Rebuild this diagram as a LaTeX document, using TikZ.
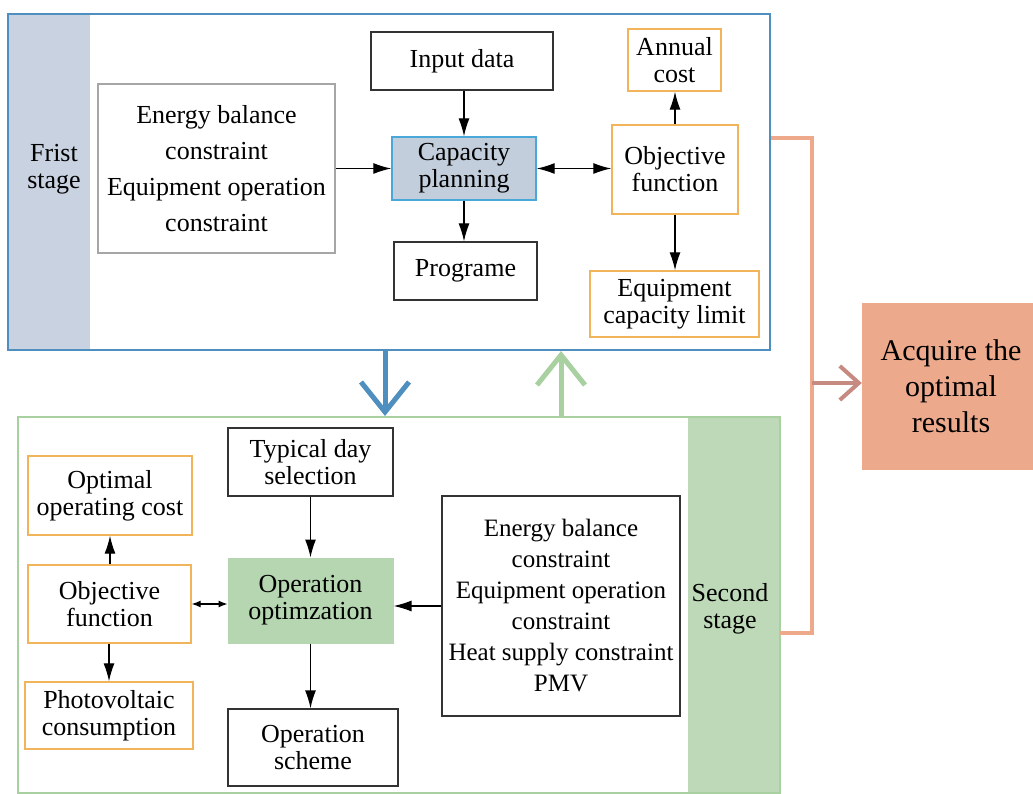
\documentclass[tikz,border=0pt]{standalone}
\usepackage{fontspec}
\setmainfont{Liberation Serif}
\usetikzlibrary{arrows.meta}
\definecolor{stblue}{HTML}{4F8FC0}
\definecolor{bandblue}{HTML}{C8D2E0}
\definecolor{capfill}{HTML}{C3CEDC}
\definecolor{capdraw}{HTML}{4AA8D8}
\definecolor{orgdraw}{HTML}{F2B45A}
\definecolor{stgreen}{HTML}{A8D0A0}
\definecolor{bandgreen}{HTML}{BDD9B7}
\definecolor{optfill}{HTML}{B5D6B0}
\definecolor{salmon}{HTML}{EDA98C}
\definecolor{orline}{HTML}{EEA88A}
\definecolor{brarrow}{HTML}{C68A80}
\begin{document}
\begin{tikzpicture}[x=1pt,y=-1pt,
  txt/.style={font=\fontsize{26}{27}\selectfont, align=center, inner sep=0pt},
  box/.style={txt, draw=black!80, line width=1.3pt},
  graybox/.style={txt, draw=black!35, line width=1.3pt},
  orgbox/.style={txt, draw=orgdraw, line width=1.4pt},
  capbox/.style={txt, draw=capdraw, fill=capfill, line width=1.4pt},
  optbox/.style={txt, fill=optfill, draw=optfill, line width=1pt},
  arr/.style={line width=1.3pt, -{Latex[length=18pt,width=11pt]}},
  darr/.style={line width=1.3pt, {Latex[length=18pt,width=11pt]}-{Latex[length=18pt,width=11pt]}},
  sdarr/.style={line width=1.2pt, {Latex[length=9pt,width=7pt]}-{Latex[length=9pt,width=7pt]}},
  sz/.style 2 args={minimum width=#1pt, minimum height=#2pt}
]
\useasboundingbox (0,0) rectangle (1033,794);

% stage frames and bands
\node[fill=bandblue, inner sep=0pt, sz={82}{336}] (band1) at (49,182) {};
\node[draw=stblue, line width=2pt, inner sep=0pt, sz={762}{336}] (s1) at (389,182) {};
\node[txt] (frist) at (54,169) {Frist\\stage};

\node[fill=bandgreen, inner sep=0pt, sz={92}{376}] (band2) at (734,605) {};
\node[draw=stgreen, line width=2pt, inner sep=0pt, sz={762}{376}] (s2) at (399,605) {};
\node[txt] (second) at (730,609) {Second\\stage};

% first stage nodes
\node[graybox, sz={237}{169}, font=\fontsize{26}{36}\selectfont] (en1) at (216.5,168.5)
  {Energy balance\\constraint\\Equipment operation\\constraint};
\node[box, sz={182}{58}] (input) at (462,61) {Input data};
\node[capbox, sz={144}{63}] (cap) at (464,168.5) {Capacity\\planning};
\node[box, sz={143}{58}] (prog) at (465.5,271) {Programe};
\node[orgbox, sz={126}{89}] (obj1) at (675,169.5) {Objective\\function};
\node[orgbox, sz={93}{62}] (annual) at (674.5,60) {Annual\\cost};
\node[orgbox, sz={169}{66}] (eqcap) at (674.5,304) {Equipment\\capacity limit};

\draw[arr] (input.south -| cap.north) -- (cap.north);
\draw[arr] (cap.south) -- (cap.south |- prog.north);
\draw[arr] (en1.east |- cap.west) -- (cap.west);
\draw[darr] (cap.east) -- (cap.east -| obj1.west);
\draw[arr] (obj1.north) -- (obj1.north |- annual.south);
\draw[arr] (obj1.south) -- (obj1.south |- eqcap.north);

% second stage nodes
\node[box, sz={165}{68}] (typ) at (310.5,462) {Typical day\\selection};
\node[optbox, sz={165}{85}] (opt) at (310.5,600.5) {Operation\\optimzation};
\node[box, sz={170}{77}] (scheme) at (313,747.5) {Operation\\scheme};
\node[orgbox, sz={164}{79}] (ocost) at (110,495.5) {Optimal\\operating cost};
\node[orgbox, sz={163}{78}] (obj2) at (109.5,604) {Objective\\function};
\node[orgbox, sz={168}{67}] (pv) at (109,715.5) {Photovoltaic\\consumption};
\node[box, sz={238}{220}, font=\fontsize{25}{31}\selectfont] (cons2) at (561,606)
  {Energy balance\\constraint\\Equipment operation\\constraint\\Heat supply constraint\\PMV};

\draw[arr] (typ.south) -- (typ.south |- opt.north);
\draw[arr] (opt.south) -- (opt.south |- scheme.north);
\draw[arr] (cons2.west) -- (cons2.west -| opt.east);
\draw[sdarr] (obj2.east) -- (obj2.east -| opt.west);
\draw[arr] (obj2.north -| ocost.south) -- (ocost.south);
\draw[arr] (obj2.south -| pv.north) -- (pv.north);

% stage-to-stage arrows
\coordinate (bl) at (385,350);
\draw[stblue, line width=5pt, -{Straight Barb[length=30pt,width=48pt]}] (bl) -- (bl |- s2.north);
\coordinate (gr) at (561,417);
\draw[stgreen, line width=5pt, -{Straight Barb[length=30pt,width=48pt]}] (gr) -- (gr |- s1.south);

% result
\node[txt, fill=salmon, sz={178}{167}, font=\fontsize{30}{36}\selectfont] (acq) at (951,386.5)
  {Acquire the\\optimal\\results};
\coordinate (oc1) at (812,138);
\coordinate (oc2) at (812,633);
\draw[orline, line width=4pt] (s1.east |- oc1) -- (oc1) -- (oc2) -- (oc2 -| band2.east);
\coordinate (oc3) at (812,383);
\draw[brarrow, line width=4pt, -{Straight Barb[length=19pt,width=34pt]}] (oc3) -- (oc3 -| acq.west);
\end{tikzpicture}
\end{document}
